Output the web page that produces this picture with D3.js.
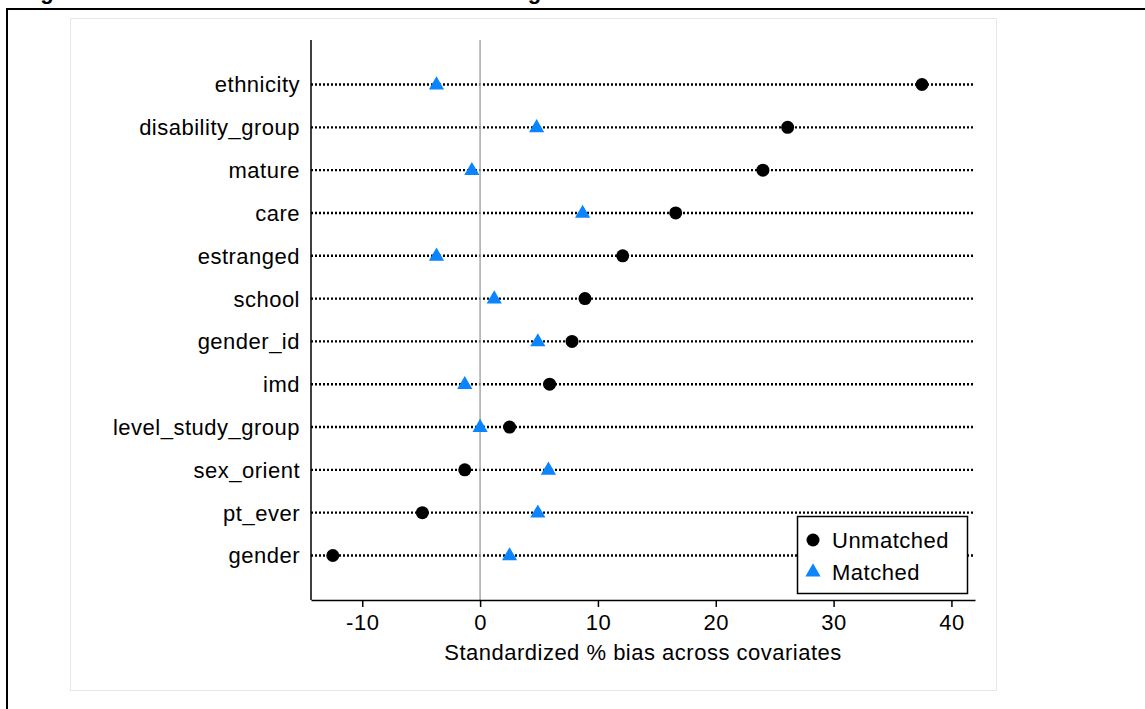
<!DOCTYPE html>
<html>
<head>
<meta charset="utf-8">
<script src="https://cdn.jsdelivr.net/npm/d3@7"></script>
<style>
  html, body { margin: 0; padding: 0; background: #fff; overflow: hidden; }
  svg { display: block; }
  text { font-family: "Liberation Sans", Arial, sans-serif; }
</style>
</head>
<body>
<svg id="chart" width="1145" height="709"></svg>
<script>
// Covariates, top to bottom
const categories = ["ethnicity", "disability_group", "mature", "care", "estranged", "school",
  "gender_id", "imd", "level_study_group", "sex_orient", "pt_ever", "gender"];
// Standardized % bias before matching
const unmatched = [37.5, 26.1, 24.0, 16.6, 12.1, 8.9, 7.8, 5.9, 2.5, -1.3, -4.9, -12.5];
// Standardized % bias after matching
const matched = [-3.7, 4.8, -0.7, 8.7, -3.7, 1.2, 4.9, -1.3, 0.0, 5.8, 4.9, 2.5];
const xTicks = [-10, 0, 10, 20, 30, 40];
const seriesNames = ["Unmatched", "Matched"];
const xTitle = "Standardized % bias across covariates";
const figTitle = "Figure 6: Standardised bias after matching";

const svg = d3.select("#chart");
const W = 1145, H = 709;
const plot = { left: 311, right: 975, top: 40, bottom: 600 };
const blue = "#0a84ff";
const FS = 22, LS = 0.5;

// document title, mostly above the visible area
svg.append("text")
  .attr("x", 17).attr("y", -1.5)
  .attr("font-size", 22).attr("font-weight", "bold").attr("letter-spacing", 1.9)
  .text(figTitle);

// outer frame (only left and top edges fall inside the view)
svg.append("rect")
  .attr("x", 7).attr("y", 9).attr("width", W + 20).attr("height", H + 20)
  .attr("fill", "none").attr("stroke", "#000").attr("stroke-width", 2);

// light graph region border
svg.append("rect")
  .attr("x", 70.5).attr("y", 18.5).attr("width", 926).attr("height", 672)
  .attr("fill", "#fff").attr("stroke", "#e4e8ec").attr("stroke-width", 1);

const x = d3.scaleLinear().domain([-14.35, 42.0]).range([plot.left, plot.right]);
const y = d3.scalePoint().domain(categories).range([plot.top, plot.bottom]).padding(1.04);

// dotted guide lines per covariate
svg.append("g").selectAll("line").data(categories).join("line")
  .attr("x1", plot.left).attr("x2", plot.right)
  .attr("y1", d => y(d)).attr("y2", d => y(d))
  .attr("stroke", "#000").attr("stroke-width", 2.4)
  .attr("stroke-dasharray", "2,2");

// zero reference line
svg.append("line")
  .attr("x1", x(0)).attr("x2", x(0))
  .attr("y1", plot.top).attr("y2", plot.bottom)
  .attr("stroke", "#a8a8a8").attr("stroke-width", 1.5);

// covariate labels
svg.append("g").selectAll("text").data(categories).join("text")
  .attr("x", plot.left - 11).attr("y", d => y(d))
  .attr("dy", "0.36em")
  .attr("text-anchor", "end")
  .attr("font-size", FS).attr("letter-spacing", LS)
  .attr("fill", "#000")
  .text(d => d);

// y axis line
svg.append("line")
  .attr("x1", plot.left).attr("x2", plot.left)
  .attr("y1", plot.top).attr("y2", plot.bottom)
  .attr("stroke", "#000").attr("stroke-width", 1.5);

// x axis
const xAxis = svg.append("g")
  .attr("transform", `translate(0,${plot.bottom})`)
  .call(d3.axisBottom(x).tickValues(xTicks).tickFormat(d => String(d))
    .tickSize(7).tickPadding(7).tickSizeOuter(0));
xAxis.select(".domain").attr("stroke", "#000").attr("stroke-width", 1.5);
xAxis.selectAll(".tick line").attr("stroke", "#000").attr("stroke-width", 1.5);
xAxis.selectAll(".tick text")
  .attr("font-size", FS).attr("letter-spacing", LS)
  .attr("font-family", "Liberation Sans, Arial, sans-serif")
  .attr("fill", "#000");

svg.append("text")
  .attr("x", (plot.left + plot.right) / 2).attr("y", 660)
  .attr("text-anchor", "middle")
  .attr("font-size", FS).attr("letter-spacing", LS)
  .text(xTitle);

// markers
const rows = categories.map((c, i) => ({ c, u: unmatched[i], m: matched[i] }));
svg.append("g").selectAll("circle").data(rows).join("circle")
  .attr("cx", d => x(d.u)).attr("cy", d => y(d.c))
  .attr("r", 6.5).attr("fill", "#000");

const tri = d3.symbol(d3.symbolTriangle, 100);
svg.append("g").selectAll("path").data(rows).join("path")
  .attr("d", tri)
  .attr("transform", d => `translate(${x(d.m)},${y(d.c) + 0.5})`)
  .attr("fill", blue);

// legend
const lg = svg.append("g");
lg.append("rect")
  .attr("x", 797.5).attr("y", 516.5).attr("width", 170).attr("height", 77)
  .attr("fill", "#fff").attr("stroke", "#000").attr("stroke-width", 1.5);
lg.append("circle").attr("cx", 813).attr("cy", 540).attr("r", 6.5).attr("fill", "#000");
lg.append("path").attr("d", tri).attr("transform", "translate(813,572)").attr("fill", blue);
lg.selectAll("text.lab").data(seriesNames).join("text")
  .attr("class", "lab")
  .attr("x", 832).attr("y", (d, i) => 540 + i * 32)
  .attr("dy", "0.36em")
  .attr("font-size", FS).attr("letter-spacing", LS)
  .text(d => d);
</script>
</body>
</html>
